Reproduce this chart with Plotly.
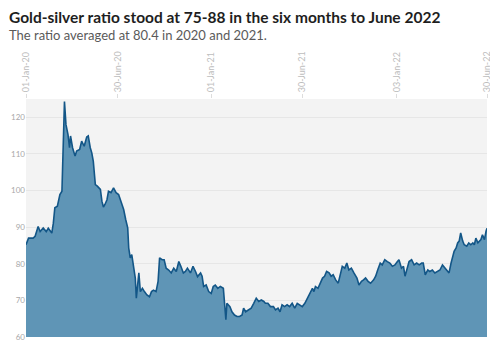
import plotly.graph_objects as go

dates = [
    "2020-01-01","2020-01-06","2020-01-15","2020-01-19","2020-01-25","2020-01-29","2020-02-04","2020-02-10",
    "2020-02-14","2020-02-21","2020-02-24","2020-02-27","2020-03-03","2020-03-08","2020-03-12","2020-03-14",
    "2020-03-17","2020-03-20","2020-03-24","2020-03-27","2020-03-29","2020-04-02","2020-04-07","2020-04-10",
    "2020-04-16","2020-04-20","2020-04-25","2020-04-30","2020-05-03","2020-05-07","2020-05-10","2020-05-13",
    "2020-05-17","2020-05-21","2020-05-27","2020-05-30","2020-06-02","2020-06-05","2020-06-09","2020-06-12",
    "2020-06-17","2020-06-22","2020-06-27","2020-07-02","2020-07-07","2020-07-12","2020-07-16","2020-07-20",
    "2020-07-22","2020-07-25","2020-07-28","2020-07-31","2020-08-04","2020-08-06","2020-08-08","2020-08-11",
    "2020-08-14","2020-08-18","2020-08-22","2020-08-27","2020-09-01","2020-09-05","2020-09-09","2020-09-14",
    "2020-09-18","2020-09-21","2020-09-26","2020-09-30","2020-10-04","2020-10-09","2020-10-14","2020-10-19",
    "2020-10-24","2020-10-29","2020-11-02","2020-11-07","2020-11-11","2020-11-15","2020-11-21","2020-11-26",
    "2020-12-01","2020-12-05","2020-12-11","2020-12-14","2020-12-17","2020-12-22","2020-12-27","2021-01-01",
    "2021-01-05","2021-01-09","2021-01-14","2021-01-19","2021-01-25","2021-01-27","2021-01-30","2021-02-01",
    "2021-02-07","2021-02-11","2021-02-16","2021-02-21","2021-02-26","2021-03-03","2021-03-06","2021-03-10",
    "2021-03-16","2021-03-21","2021-03-26","2021-03-31","2021-04-05","2021-04-10","2021-04-15","2021-04-18",
    "2021-04-23","2021-04-28","2021-05-04","2021-05-08","2021-05-13","2021-05-17","2021-05-21","2021-05-26",
    "2021-05-31","2021-06-05","2021-06-10","2021-06-15","2021-06-20","2021-06-25","2021-06-30","2021-07-05",
    "2021-07-10","2021-07-15","2021-07-20","2021-07-23","2021-07-26","2021-07-31","2021-08-05","2021-08-09",
    "2021-08-13","2021-08-17","2021-08-22","2021-08-26","2021-08-30","2021-09-04","2021-09-09","2021-09-12",
    "2021-09-17","2021-09-22","2021-09-26","2021-09-30","2021-10-05","2021-10-10","2021-10-16","2021-10-20",
    "2021-10-25","2021-10-29","2021-11-02","2021-11-07","2021-11-12","2021-11-18","2021-11-22","2021-11-26",
    "2021-12-01","2021-12-05","2021-12-10","2021-12-15","2021-12-20","2021-12-25","2021-12-30","2022-01-04",
    "2022-01-07","2022-01-12","2022-01-16","2022-01-19","2022-01-23","2022-01-27","2022-02-01","2022-02-06",
    "2022-02-11","2022-02-16","2022-02-21","2022-02-24","2022-02-28","2022-03-05","2022-03-09","2022-03-14",
    "2022-03-19","2022-03-24","2022-03-29","2022-04-03","2022-04-08","2022-04-13","2022-04-16","2022-04-20",
    "2022-04-23","2022-04-26","2022-04-30","2022-05-03","2022-05-06","2022-05-09","2022-05-13","2022-05-16",
    "2022-05-21","2022-05-25","2022-05-29","2022-06-02","2022-06-05","2022-06-08","2022-06-12","2022-06-15",
    "2022-06-18","2022-06-21","2022-06-25","2022-06-28","2022-06-30",
]

ratio = [
    85.2, 87.0, 87.0, 87.5, 90.2, 88.8, 89.8, 88.8,
    89.7, 88.4, 91.1, 95.3, 95.7, 98.9, 99.8, 112.6,
    124.3, 118.0, 115.3, 111.7, 114.9, 111.7, 109.4, 110.8,
    111.2, 113.5, 112.1, 114.6, 114.9, 111.7, 110.3, 108.0,
    101.6, 101.2, 100.3, 97.1, 95.5, 96.2, 97.5, 99.8,
    99.4, 100.7, 99.4, 98.9, 97.1, 94.8, 92.1, 89.8,
    84.3, 81.6, 82.5, 79.7, 76.1, 70.6, 73.3, 77.5,
    72.4, 73.3, 72.4, 71.5, 71.0, 72.4, 72.8, 72.4,
    75.2, 81.6, 81.1, 81.1, 78.8, 78.3, 77.5, 78.8,
    77.9, 80.6, 79.3, 77.5, 77.9, 78.8, 77.5, 79.3,
    77.9, 76.5, 77.5, 76.6, 73.8, 74.2, 72.4, 71.9,
    73.8, 74.2, 73.3, 73.8, 73.3, 69.7, 64.7, 69.2,
    68.3, 66.9, 66.0, 65.6, 65.6, 66.0, 67.9, 66.9,
    67.4, 67.9, 69.2, 70.6, 69.7, 70.1, 69.7, 69.2,
    69.2, 68.3, 68.3, 67.4, 67.9, 66.9, 68.8, 68.3,
    68.8, 68.3, 69.2, 67.9, 69.2, 68.8, 68.3, 69.2,
    70.6, 72.0, 73.3, 72.4, 73.8, 73.3, 74.7, 76.1,
    76.6, 77.9, 77.5, 76.6, 77.0, 75.6, 74.7, 76.6,
    79.3, 78.8, 80.2, 78.3, 78.8, 77.5, 76.1, 74.2,
    75.2, 75.6, 76.1, 75.2, 74.7, 75.6, 76.6, 78.3,
    80.2, 79.7, 81.1, 80.6, 80.2, 79.3, 79.7, 80.6,
    81.1, 78.8, 79.3, 76.6, 78.8, 80.6, 81.1, 79.7,
    80.2, 79.7, 80.2, 80.2, 77.0, 78.3, 77.9, 78.3,
    77.5, 77.9, 78.3, 79.7, 78.8, 77.9, 77.5, 80.2,
    81.6, 83.4, 84.3, 85.7, 86.2, 88.4, 86.2, 85.2,
    84.8, 85.7, 85.2, 85.7, 85.2, 87.0, 85.7, 86.2,
    86.6, 87.9, 86.6, 88.8, 89.7,
]

x_tickvals = ["2020-01-01", "2020-06-30", "2021-01-01", "2021-06-30", "2022-01-03", "2022-06-30"]
x_ticktext = ["01-Jan-20", "30-Jun-20", "01-Jan-21", "30-Jun-21", "03-Jan-22", "30-Jun-22"]
y_tickvals = [60, 70, 80, 90, 100, 110, 120]

title = "Gold-silver ratio stood at 75-88 in the six months to June 2022"
subtitle = "The ratio averaged at 80.4 in 2020 and 2021."

fig = go.Figure()
fig.add_trace(go.Scatter(
    x=dates, y=ratio, mode="lines", fill="tozeroy",
    line=dict(color="#135687", width=1.6),
    fillcolor="#5f95b6",
    hoverinfo="skip",
))

# page body has a default 8px margin, so the figure is sized 490x352
fig.update_layout(
    width=490, height=352,
    margin=dict(l=18, r=11, t=91, b=23),
    paper_bgcolor="white",
    plot_bgcolor="#f3f3f3",
    showlegend=False,
    font=dict(family="Lato, 'Source Sans Pro', sans-serif"),
    xaxis=dict(
        type="date", side="top",
        range=["2020-01-01", "2022-06-30"],
        tickvals=x_tickvals, ticktext=x_ticktext,
        tickangle=-90,
        tickfont=dict(size=9, color="#bdbdbd"),
        showgrid=False, zeroline=False,
        ticks="outside", ticklen=4, tickcolor="#dddddd",
        showline=False, automargin=False,
    ),
    yaxis=dict(
        range=[60, 125],
        tickvals=y_tickvals,
        tickfont=dict(size=8, color="#a8a8a8"),
        showgrid=True, gridcolor="#e6e6e6", gridwidth=1,
        zeroline=False, ticks="", showline=False, automargin=False,
    ),
    annotations=[
        dict(text="<b>" + title + "</b>", x=0, xref="paper", xanchor="left", xshift=-19,
             y=1, yref="paper", yanchor="middle", yshift=82, showarrow=False,
             font=dict(size=15.5, color="#1e1e1e")),
        dict(text=subtitle, x=0, xref="paper", xanchor="left", xshift=-19,
             y=1, yref="paper", yanchor="middle", yshift=64, showarrow=False,
             font=dict(size=13, color="#5a5a5a")),
    ],
)

fig.write_html("out.html")
